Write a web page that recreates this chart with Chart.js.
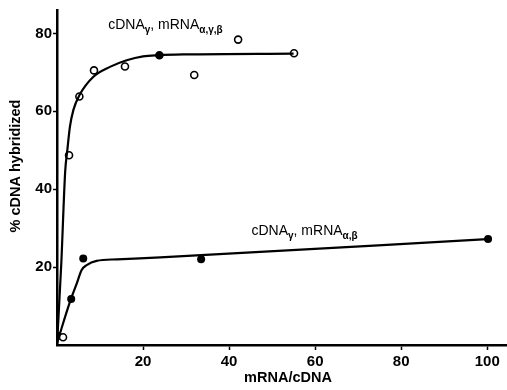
<!DOCTYPE html>
<html>
<head>
<meta charset="utf-8">
<script src="https://cdn.jsdelivr.net/npm/chart.js@4"></script>
<style>
	html, body { margin: 0; padding: 0; background: #fff; }
	#wrap { width: 507px; height: 390px; }
</style>
</head>
<body>
<div id="wrap"><canvas id="chart"></canvas></div>
<script>
const openX = [1.4, 2.8, 5.2, 8.6, 15.8, 23.8, 31.9, 42.1, 55.1];
const openY = [2, 48.7, 63.8, 70.5, 71.5, 74.4, 69.3, 78.4, 74.9];
const filledX = [0.2, 3.3, 6.1, 33.5, 100.2];
const filledY = [2.3, 11.8, 22.2, 22, 27.2];

// hand drawn fit curves
const fitAX = [0, 1, 1.9, 2.4, 3, 3.8, 5.2, 8.4, 12.3, 16.2, 20, 23.5, 30, 55];
const fitAY = [0, 21, 44.5, 50, 56, 60.3, 64.1, 68.8, 71.4, 73.1, 74.1, 74.4, 74.6, 74.8];
const fitBX = [0, 3.2, 4.6, 5.7, 6.9, 9.2, 14, 24, 100];
const fitBY = [0.5, 11.7, 15.8, 19.2, 20.5, 21.6, 22, 22.5, 27.2];

const xTicks = [20, 40, 60, 80, 100];
const yTicks = [20, 40, 60, 80];

const pts = (xs, ys) => xs.map((x, i) => ({ x: x, y: ys[i] }));

const font = "'Liberation Sans', Arial, sans-serif";

// curve labels with subscripts, plus the axis titles
const labels = {
	id: "labels",
	afterDatasetsDraw(chart) {
		const { ctx, scales } = chart;
		const put = (x, y, parts) => {
			let px = scales.x.getPixelForValue(x);
			const py = scales.y.getPixelForValue(y);
			ctx.save();
			ctx.fillStyle = "#000";
			ctx.textBaseline = "alphabetic";
			for (const [t, sub] of parts) {
				ctx.font = sub ? "bold 10px " + font : "14px " + font;
				ctx.fillText(t, px, sub ? py + 4 : py);
				px += ctx.measureText(t).width;
			}
			ctx.restore();
		};
		put(11.9, 81, [["cDNA", 0], ["\u03b3", 1], [", mRNA", 0], ["\u03b1,\u03b3,\u03b2", 1]]);
		put(45.2, 28.2, [["cDNA", 0], ["\u03b3", 1], [", mRNA", 0], ["\u03b1,\u03b2", 1]]);

		ctx.save();
		ctx.fillStyle = "#000";
		ctx.font = "bold 14.5px " + font;
		ctx.textAlign = "center";
		ctx.textBaseline = "middle";
		ctx.fillText("mRNA/cDNA", 288, 378);
		ctx.translate(16, 166);
		ctx.rotate(-Math.PI / 2);
		ctx.fillText("% cDNA hybridized", 0, 0);
		ctx.restore();
	}
};

new Chart(
	document.getElementById("chart"),
	{
		type: "scatter",
		data: {
			datasets: [
				{
					data: pts(fitAX, fitAY),
					showLine: true,
					borderColor: "#000",
					borderWidth: 2.2,
					pointRadius: 0,
					cubicInterpolationMode: "monotone",
				},
				{
					data: pts(fitBX, fitBY),
					showLine: true,
					borderColor: "#000",
					borderWidth: 2.2,
					pointRadius: 0,
					cubicInterpolationMode: "monotone",
				},
				{
					data: pts(openX, openY),
					pointRadius: 3.5,
					pointBorderWidth: 1.6,
					pointBorderColor: "#000",
					pointBackgroundColor: c => c.dataIndex === 5 ? "#000" : "#fff",
				},
				{
					data: pts(filledX, filledY),
					pointRadius: 4,
					pointBorderWidth: 0,
					pointBackgroundColor: "#000",
				},
			],
		},
		options: {
			responsive: true,
			maintainAspectRatio: false,
			animation: false,
			layout: { autoPadding: false, padding: { top: 10, right: 0, left: 0, bottom: 0 } },
			plugins: {
				legend: { display: false },
				tooltip: { enabled: false },
			},
			scales: {
				x: {
					type: "linear",
					min: 0,
					max: 104.6,
					afterBuildTicks: s => { s.ticks = xTicks.map(v => ({ value: v })); },
					afterFit: s => { s.height = 45; s.paddingRight = 0; s.paddingLeft = 0; },
					grid: { drawOnChartArea: false, drawTicks: true, tickLength: 5, color: "#000", tickWidth: 1.5 },
					border: { color: "#000", width: 2.5 },
					ticks: { color: "#000", font: { family: font, size: 15, weight: "bold" }, padding: 3 },
				},
				y: {
					type: "linear",
					min: 0,
					max: 86,
					afterBuildTicks: s => { s.ticks = yTicks.map(v => ({ value: v })); },
					afterFit: s => { s.width = 57; s.paddingTop = 0; s.paddingBottom = 0; },
					grid: { drawOnChartArea: false, drawTicks: true, tickLength: 4, color: "#000", tickWidth: 1.5 },
					border: { color: "#000", width: 2.5 },
					ticks: { color: "#000", font: { family: font, size: 15, weight: "bold" }, padding: 1 },
				},
			},
		},
		plugins: [labels],
	}
)
</script>
</body>
</html>
